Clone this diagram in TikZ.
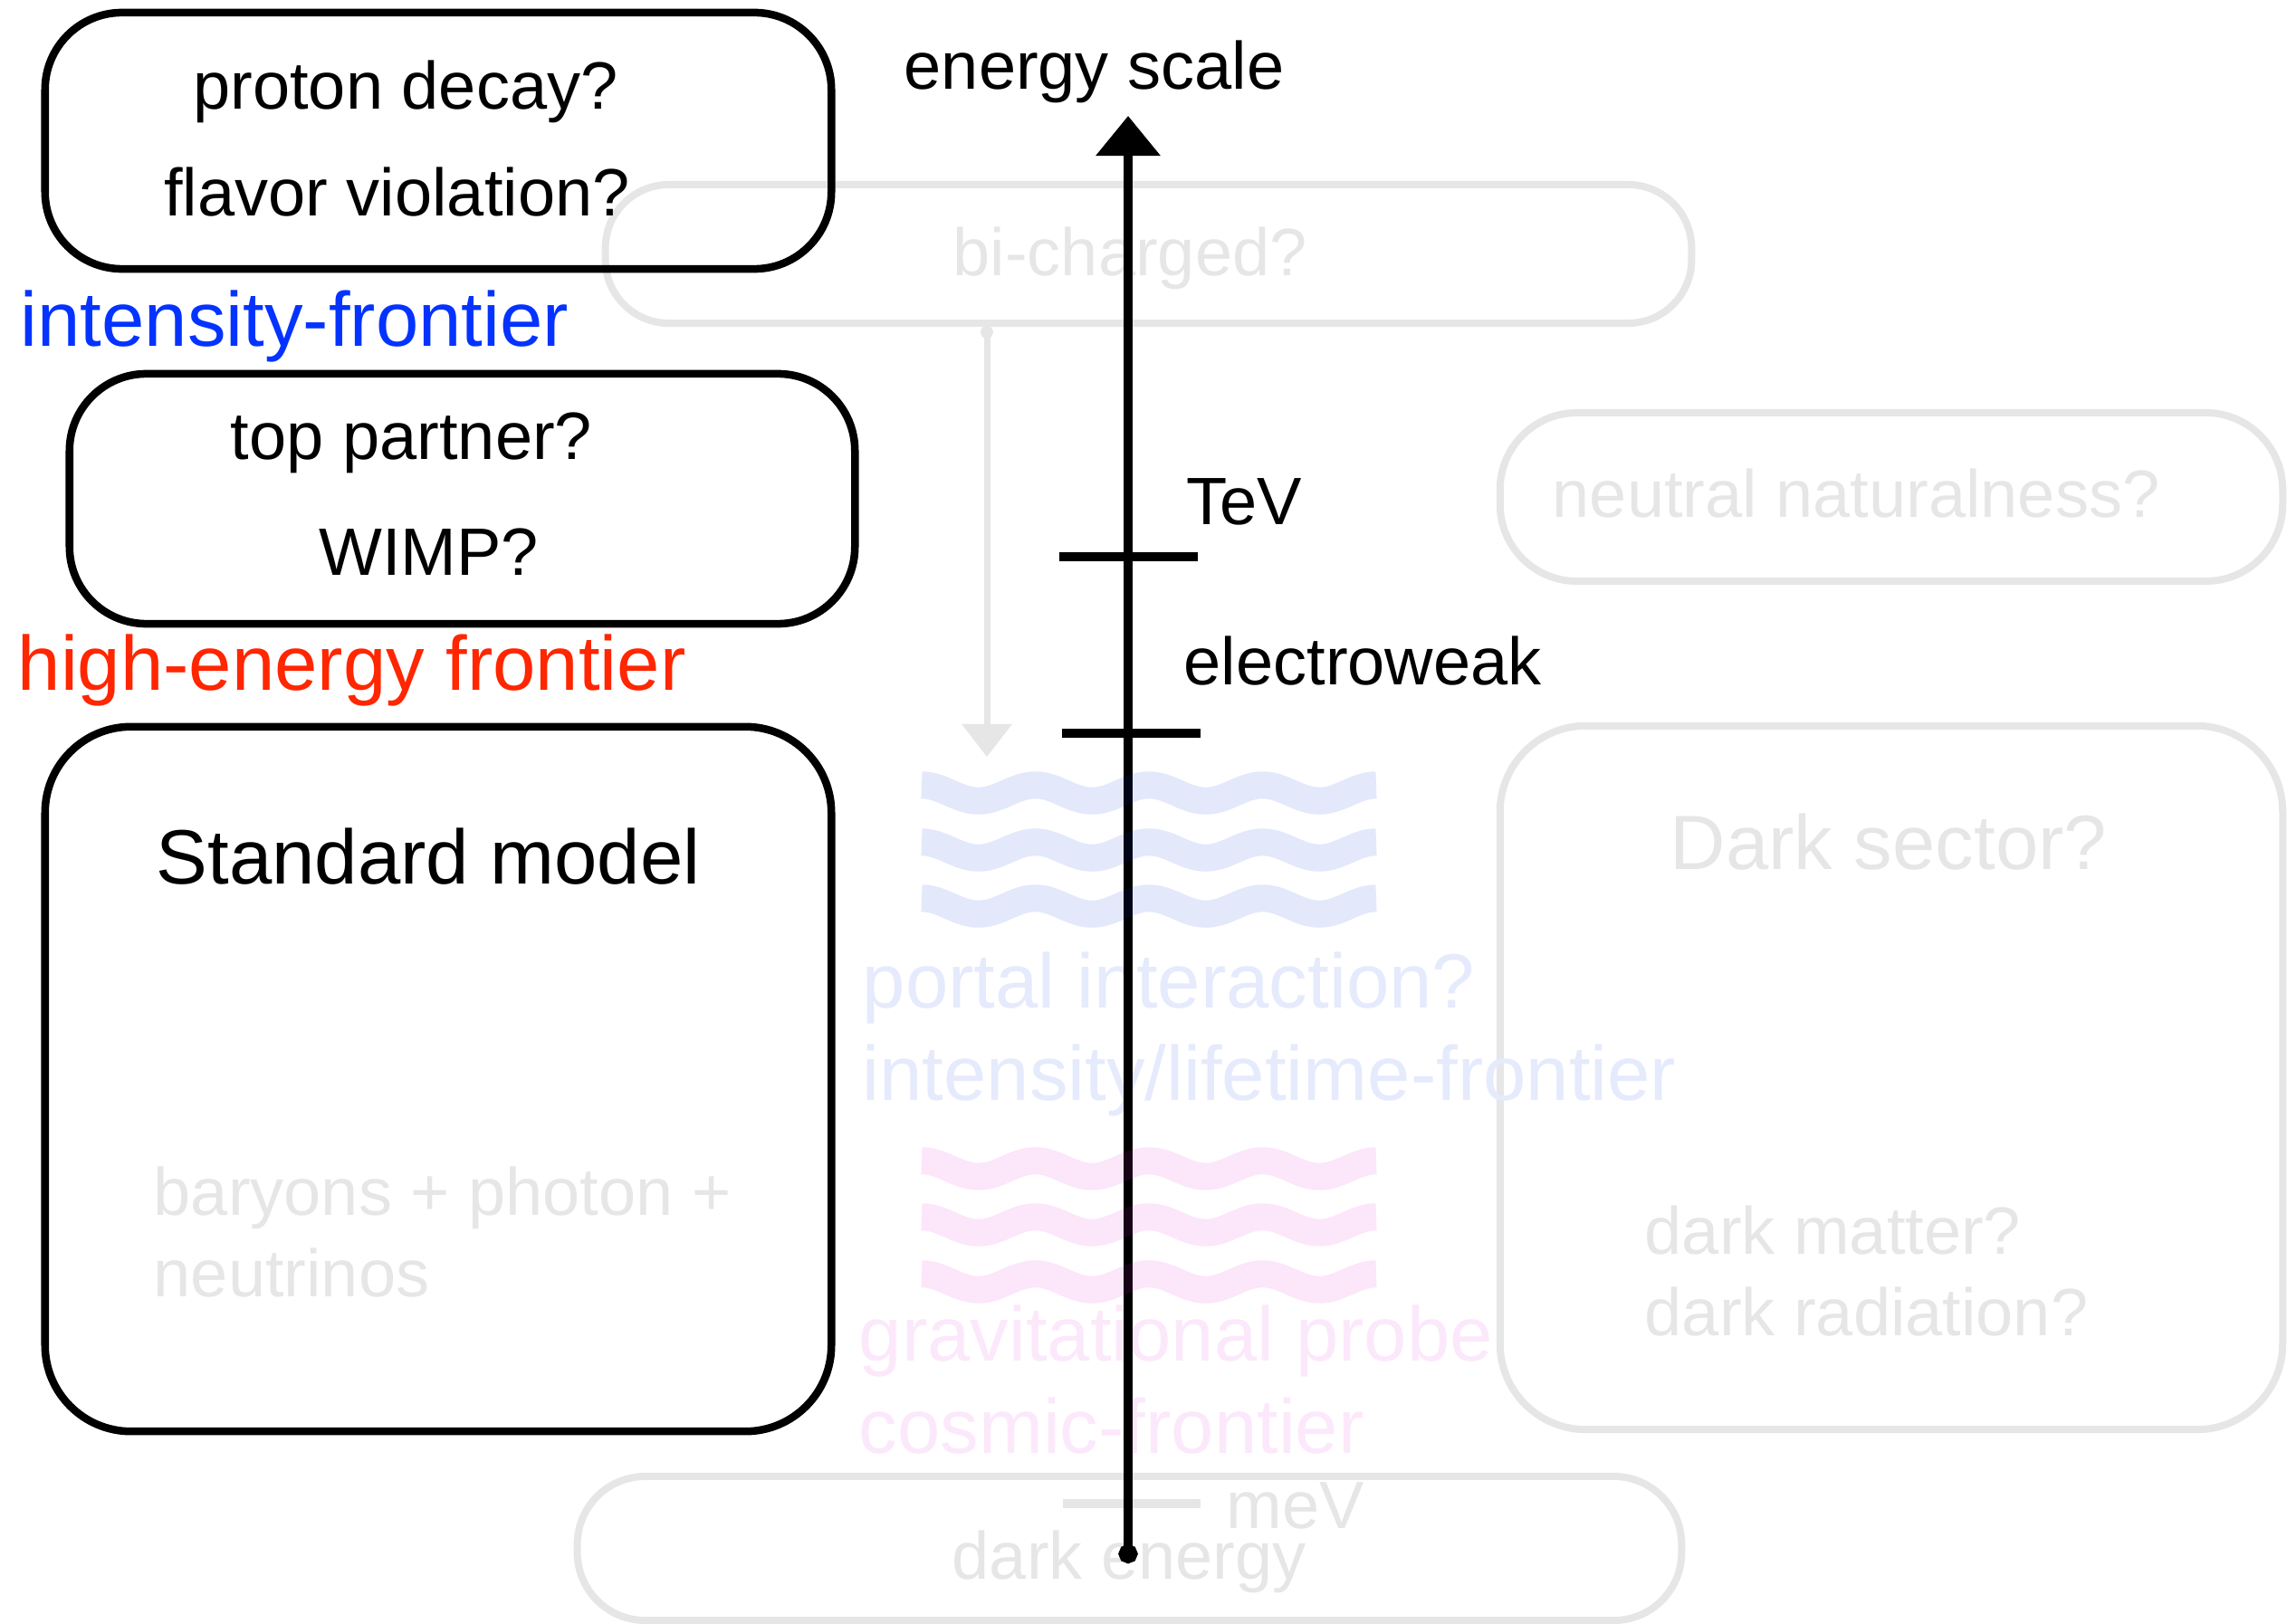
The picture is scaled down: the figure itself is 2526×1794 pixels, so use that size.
\documentclass[tikz,border=0pt]{standalone}
\usepackage{fontspec}
\setmainfont{Liberation Sans}
\usetikzlibrary{arrows.meta}
\definecolor{lgray}{RGB}{230,230,230}
\definecolor{ltblue}{RGB}{229,234,252}
\definecolor{ltpink}{RGB}{252,232,251}
\definecolor{frblue}{RGB}{4,51,255}
\definecolor{frred}{RGB}{255,38,0}
\definecolor{wblue}{RGB}{0,45,218}
\definecolor{wpink}{RGB}{227,27,209}
\newcommand\txtS{\fontsize{21.05pt}{25pt}\selectfont}
\newcommand\txtL{\fontsize{24.2pt}{29pt}\selectfont}
\begin{document}
\begin{tikzpicture}[x=0.01cm,y=-0.01cm,
  blackbox/.style={draw=black, line width=0.085cm, rounded corners=#1, inner sep=0pt},
  graybox/.style={draw=lgray, line width=0.08cm, rounded corners=#1, inner sep=0pt},
  lbl/.style={inner sep=0pt, font=\txtS},
  lblL/.style={inner sep=0pt, font=\txtL},
  wavestroke/.style={line width=0.3cm, opacity=0.11},
  tick/.style={line width=0.1cm}
]
\useasboundingbox (0,0) rectangle (2526,1794);

% ---- gray (faded) boxes ----
\node[graybox=0.7cm, minimum width=11.99cm, minimum height=1.53cm] (bic) at (1268.5,280.5) {};
\node[graybox=0.85cm, minimum width=8.64cm, minimum height=1.86cm] (nn) at (2089,549) {};
\node[graybox=0.95cm, minimum width=8.64cm, minimum height=7.77cm] (ds) at (2089,1190.5) {};
\node[graybox=0.75cm, minimum width=12.19cm, minimum height=1.59cm] (de) at (1247.5,1710.5) {};

% ---- gray texts ----
\node[lbl, text=lgray, anchor=base west] (tbic) at (1052,305) {bi-charged?};
\node[lbl, text=lgray, anchor=base west] (tnn) at (1714,571) {neutral naturalness?};
\node[lblL, text=lgray, anchor=base west] (tds) at (1844,960) {Dark sector?};
\node[lbl, text=lgray, anchor=base west] (tdm) at (1816,1385) {dark matter?};
\node[lbl, text=lgray, anchor=base west] (tdr) at (1816,1475) {dark radiation?};
\node[lbl, text=lgray, anchor=base west] (tbar) at (169,1342) {baryons + photon +};
\node[lbl, text=lgray, anchor=base west] (tneu) at (169,1432) {neutrinos};
\node[lbl, text=lgray, anchor=base west] (tde) at (1051,1744) {dark energy};
\node[lbl, text=lgray, anchor=base west] (tmev) at (1354,1688) {meV};

% ---- light coloured texts ----
\node[lblL, text=ltblue, anchor=base west] (tpi) at (952,1113) {portal interaction?};
\node[lblL, text=ltblue, anchor=base west] (tilf) at (952,1215) {intensity/lifetime-frontier};
\node[lblL, text=ltpink, anchor=base west] (tgp) at (948,1503) {gravitational probe};
\node[lblL, text=ltpink, anchor=base west] (tcf) at (948,1605) {cosmic-frontier};

% ---- gray arrow and meV tick ----
\coordinate (ga1) at (1090,360);
\coordinate (ga2) at (1090,836);
\draw[lgray, line width=0.07cm, {Circle[length=0.14cm]}-{Triangle[width=0.54cm,length=0.36cm]}] (ga1) -- (ga2);
\coordinate (mev1) at (1174,1661);
\coordinate (mev2) at (1326,1661);
\draw[tick, lgray] (mev1) -- (mev2);

% ---- black boxes ----
\node[blackbox=0.85cm, minimum width=8.68cm, minimum height=2.83cm] (b1) at (484,155.5) {};
\node[blackbox=0.85cm, minimum width=8.67cm, minimum height=2.76cm] (b2) at (510.5,551) {};
\node[blackbox=0.95cm, minimum width=8.68cm, minimum height=7.78cm] (b3) at (484,1192) {};

% ---- black / coloured texts ----
\node[lbl, anchor=base] (tpd) at (448,121) {proton decay?};
\node[lbl, anchor=base] (tfv) at (438.5,239) {flavor violation?};
\node[lblL, text=frblue, anchor=base west] (tif) at (22,383) {intensity-frontier};
\node[lbl, anchor=base] (ttp) at (454.5,507) {top partner?};
\node[lbl, anchor=base] (twimp) at (473.5,635) {WIMP?};
\node[lblL, text=frred, anchor=base west] (thef) at (19,762) {high-energy frontier};
\node[lblL, anchor=base west] (tsm) at (172,976) {Standard model};
\node[lbl, anchor=base west] (tes) at (998,99) {energy scale};
\node[lbl, anchor=base west] (ttev) at (1310,579) {TeV};
\node[lbl, anchor=base west] (tew) at (1307,756) {electroweak};

% ---- energy axis ----
\coordinate (axbot) at (1246,1727);
\coordinate (axtop) at (1246,128);
\draw[line width=0.1cm, {Circle[length=0.21cm]}-{Triangle[width=0.69cm,length=0.44cm]}] (axbot) -- (axtop);
\coordinate (tev1) at (1170,615);
\coordinate (tev2) at (1323,615);
\draw[tick] (tev1) -- (tev2);
\coordinate (ew1) at (1173,810);
\coordinate (ew2) at (1326,810);
\draw[tick] (ew1) -- (ew2);

% ---- waves ----
\foreach \yc in {876,939,1001}{
  \draw[wavestroke, wblue] plot[domain=1018:1520, samples=140] (\x, {\yc - 8.75*cos(2.86853*(\x-1018))});
}
\foreach \yc in {1291,1353,1416}{
  \draw[wavestroke, wpink] plot[domain=1018:1520, samples=140] (\x, {\yc - 8.75*cos(2.86853*(\x-1018))});
}
\end{tikzpicture}
\end{document}
